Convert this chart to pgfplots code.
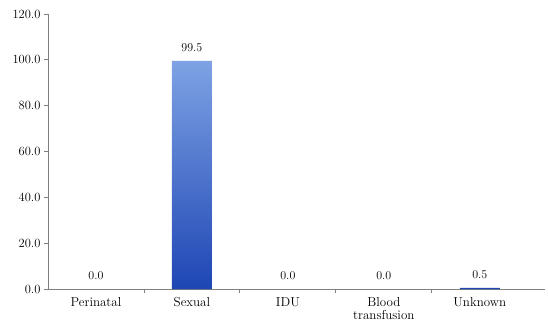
\documentclass[border=0pt]{standalone}
\usepackage{pgfplots}
\pgfplotsset{compat=1.18}
\definecolor{bartop}{HTML}{7EA2E4}
\definecolor{barbot}{HTML}{1E46B4}
\definecolor{axgray}{HTML}{7F7F7F}
\begin{document}
\begin{tikzpicture}
\begin{axis}[
  name=ax,
  scale only axis,
  width=497pt, height=275pt,
  xmin=-0.5, xmax=4.68,
  ymin=0, ymax=120,
  axis x line*=bottom,
  axis y line*=left,
  axis line style={axgray, line width=0.8pt},
  xtick={0,1,2,3,4},
  xticklabels={Perinatal,Sexual,IDU,{Blood\\transfusion},Unknown},
  xticklabel style={align=center, font=\fontsize{13}{13}\selectfont, text=black},
  x tick label style={yshift=-1pt},
  major x tick style={draw=none},
  minor xtick={0.5,1.5,2.5,3.5},
  minor x tick style={axgray, line width=0.8pt},
  minor tick length=4pt,
  ytick={0,20,...,120},
  major tick length=4pt,
  ytick style={axgray, line width=0.8pt},
  tick align=outside,
  yticklabel style={font=\fontsize{12.5}{12.5}\selectfont, /pgf/number format/fixed, /pgf/number format/fixed zerofill, /pgf/number format/precision=1},
  /pgf/number format/assume math mode=true,
  ybar,
  bar width=40pt,
  bar shift=0pt,
  nodes near coords,
  nodes near coords style={font=\fontsize{12}{12}\selectfont, /pgf/number format/fixed, /pgf/number format/fixed zerofill, /pgf/number format/precision=1, /pgf/number format/assume math mode=true, yshift=6pt},
  clip=false,
]
\addplot[draw=none, top color=bartop, bottom color=barbot] coordinates {(1,99.5) (4,0.5)};
\addplot[draw=none, fill=none] coordinates {(0,0) (2,0) (3,0)};
\end{axis}
\path (ax.south west) ++(-48pt,-41pt) coordinate (ll);
\path (ax.north east) ++(3pt,14pt) coordinate (ur);
\path (ll) rectangle (ur);
\end{tikzpicture}
\end{document}
